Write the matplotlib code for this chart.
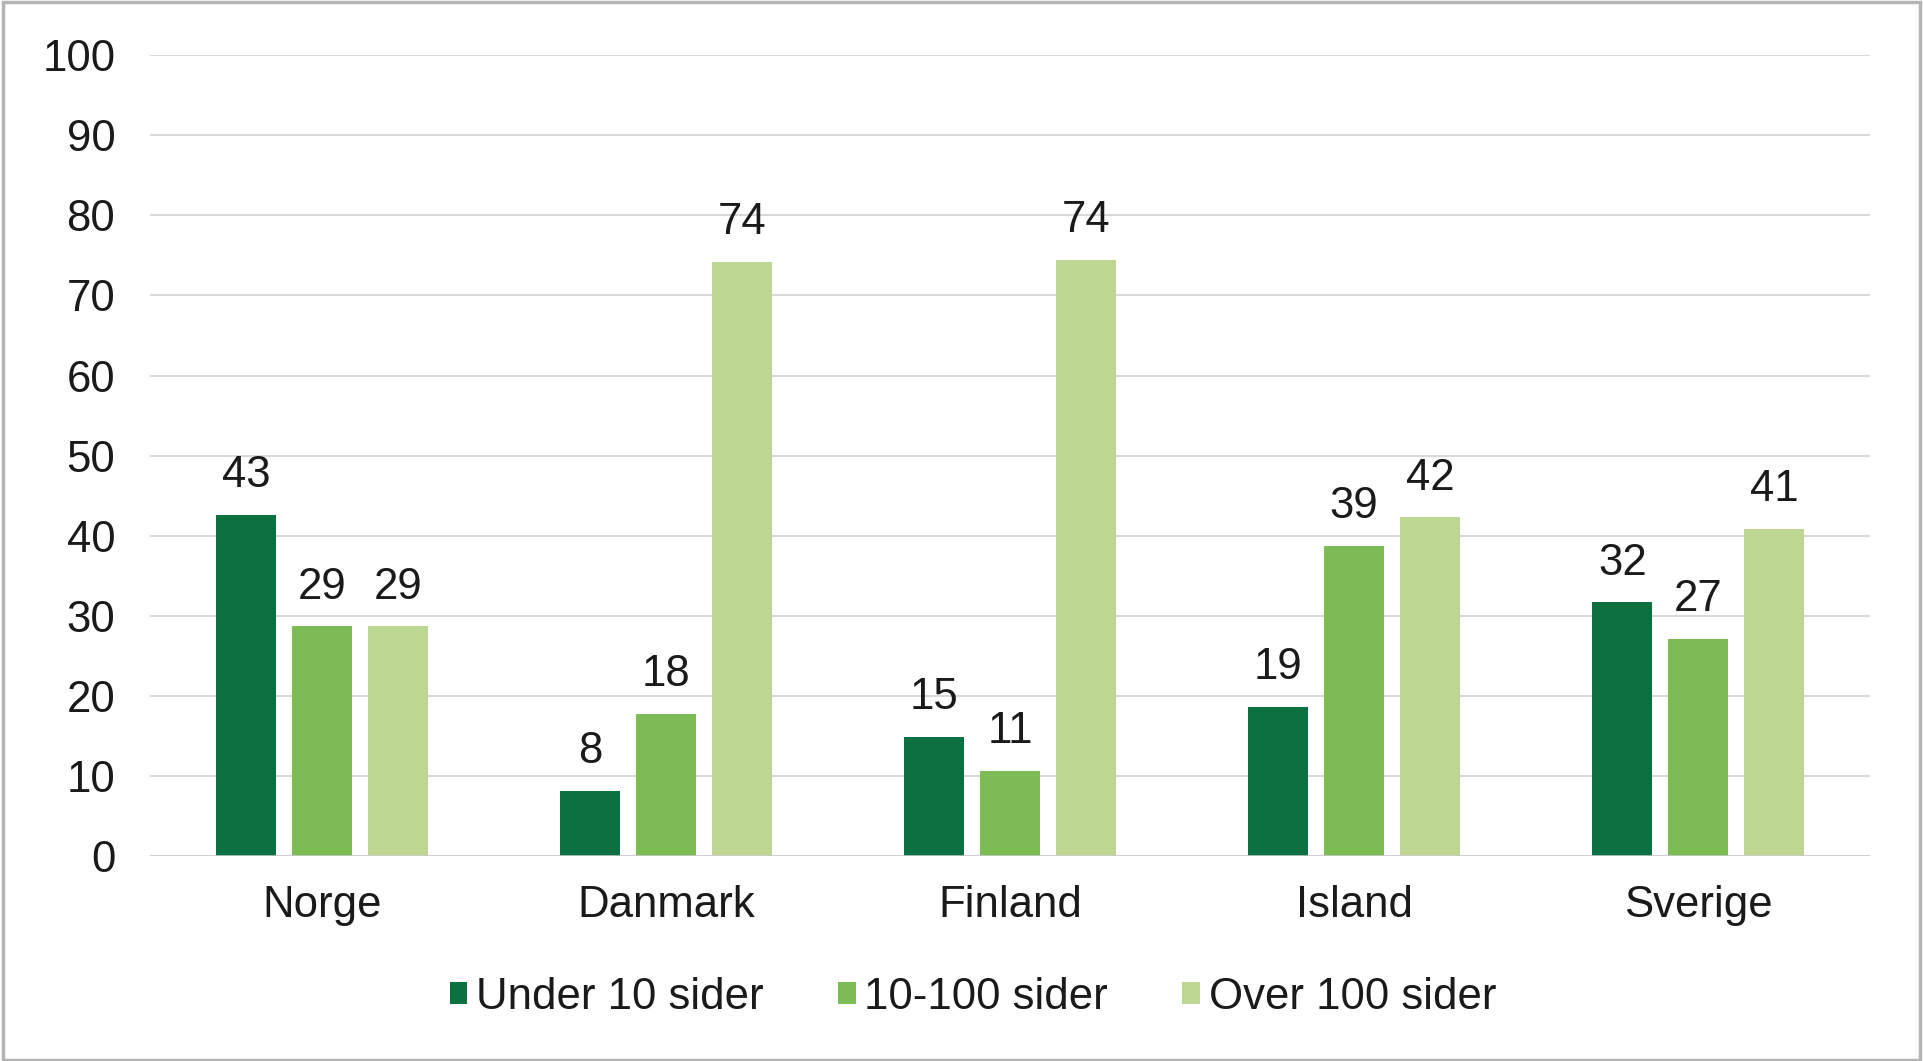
import matplotlib
matplotlib.use("Agg")
import matplotlib.pyplot as plt
import numpy as np
from matplotlib.patches import Rectangle

# Data
categories = ["Norge", "Danmark", "Finland", "Island", "Sverige"]
series_names = ["Under 10 sider", "10-100 sider", "Over 100 sider"]
under_10 = [42.6, 8.2, 14.9, 18.6, 31.7]
s_10_100 = [28.7, 17.8, 10.7, 38.7, 27.1]
over_100 = [28.7, 74.2, 74.4, 42.3, 40.9]
y_ticks = [0, 10, 20, 30, 40, 50, 60, 70, 80, 90, 100]

colors = ["#0B7140", "#7DBB55", "#BDD793"]
plt.rcParams['font.family'] = ['Liberation Sans', 'DejaVu Sans']
FS = 31.5

fig = plt.figure(figsize=(19.23, 10.61), dpi=100)
ax = fig.add_axes([0.078, 0.193, 0.8946, 0.755])

x = np.arange(len(categories))
pitch = 0.221
width = 0.175
series = [under_10, s_10_100, over_100]
text_color = "#1a1a1a"
for i, (vals, name, col) in enumerate(zip(series, series_names, colors)):
    pos = x + (i - 1) * pitch
    ax.bar(pos, vals, width=width, color=col, label=name, zorder=3)
    for xp, v in zip(pos, vals):
        ax.annotate(f"{v:.0f}", (xp, v), xytext=(0, 20), textcoords="offset points",
                    ha="center", va="baseline", fontsize=FS, color=text_color)

ax.set_xlim(-0.5, len(categories) - 0.5)
ax.set_ylim(0, 100)
ax.set_yticks(y_ticks)
ax.set_yticklabels([str(t) for t in y_ticks])
ax.set_xticks(x)
ax.set_xticklabels(categories)
ax.tick_params(axis="y", length=0, pad=25, labelsize=FS, labelcolor=text_color)
ax.tick_params(axis="x", length=0, pad=21, labelsize=FS, labelcolor=text_color)
ax.grid(axis="y", color="#d9d9d9", linewidth=1.5, zorder=0)
for s in ax.spines.values():
    s.set_visible(False)
ax.axhline(0, color="#cfcfcf", linewidth=1.8, zorder=4)

leg = fig.legend(loc="center", bbox_to_anchor=(0.506, 0.060), ncol=3, frameon=False,
                 fontsize=FS, handlelength=0.4, handleheight=0.4, handletextpad=0.2,
                 columnspacing=1.7)
for t in leg.get_texts():
    t.set_color(text_color)

fig.patches.append(Rectangle((0.0015, 0.001), 0.997, 0.997, transform=fig.transFigure,
                             fill=False, edgecolor="#b4b4b4", linewidth=2.5))

fig.savefig("out.png", dpi=100)
